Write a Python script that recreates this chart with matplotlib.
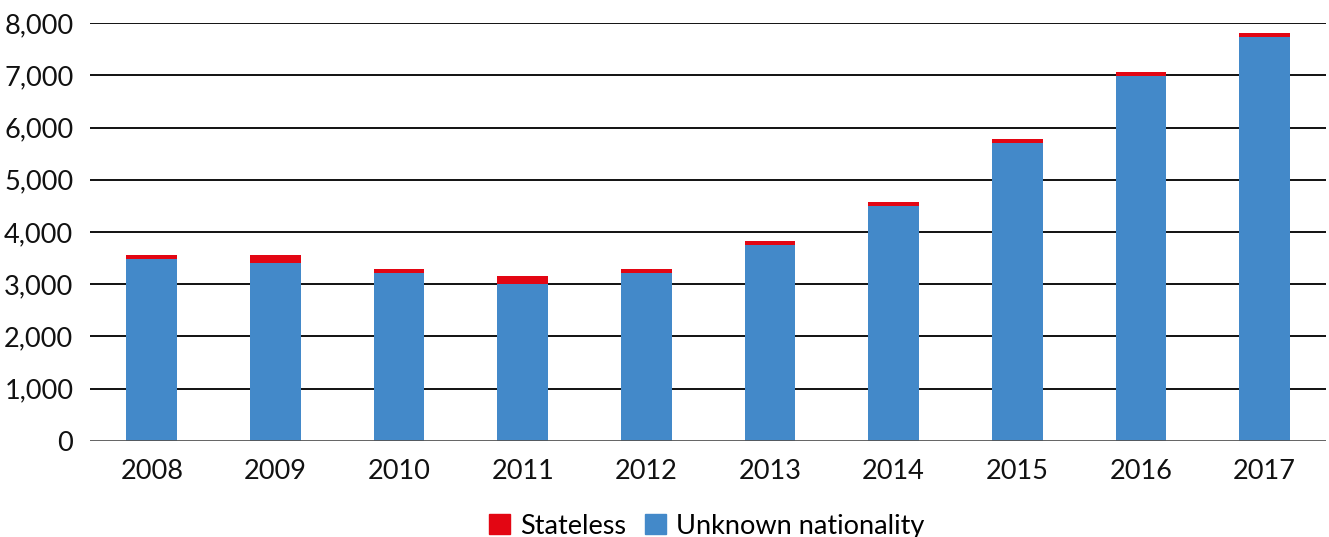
import matplotlib
matplotlib.use("Agg")
import matplotlib.pyplot as plt
from matplotlib.patches import Patch
from matplotlib.ticker import FuncFormatter
import numpy as np

plt.rcParams["font.family"] = ["Lato", "DejaVu Sans"]

years = ["2008", "2009", "2010", "2011", "2012", "2013", "2014", "2015", "2016", "2017"]
unknown_nationality = [3480, 3410, 3215, 3005, 3220, 3750, 4500, 5705, 6985, 7730]
stateless = [80, 150, 77, 150, 75, 77, 76, 77, 77, 78]

blue = "#4389c9"
red = "#e30613"

fig = plt.figure(figsize=(13.29, 5.37), dpi=100)
ax = fig.add_axes([0.0677, 0.179, 0.9303, 0.778])

x = np.arange(len(years))
width = 0.41
ax.bar(x, unknown_nationality, width, color=blue, zorder=3)
ax.bar(x, stateless, width, bottom=unknown_nationality, color=red, zorder=3)

ax.set_xlim(-0.5, len(years) - 0.5)
ax.set_ylim(0, 8000)
ax.set_yticks(np.arange(0, 8001, 1000))
ax.yaxis.set_major_formatter(FuncFormatter(lambda v, p: f"{int(v):,}"))
ax.set_xticks(x)
ax.set_xticklabels(years)

for v in range(1000, 8001, 1000):
    ax.axhline(v, color="#111111", lw=1.4, zorder=1)
ax.axhline(0, color="#555555", lw=2, zorder=4)

for s in ax.spines.values():
    s.set_visible(False)
ax.tick_params(axis="both", length=0, labelsize=19.5, colors="#111111")
ax.tick_params(axis="y", pad=12)
ax.tick_params(axis="x", pad=13)

handles = [Patch(color=red, label="Stateless"), Patch(color=blue, label="Unknown nationality")]
fig.legend(handles=handles, loc="center", bbox_to_anchor=(0.532, 0.02), ncol=2,
           frameon=False, fontsize=19.5, handlelength=0.75, handleheight=0.75,
           handletextpad=0.4, columnspacing=0.7, borderpad=0)

fig.savefig("out.png", dpi=100)
